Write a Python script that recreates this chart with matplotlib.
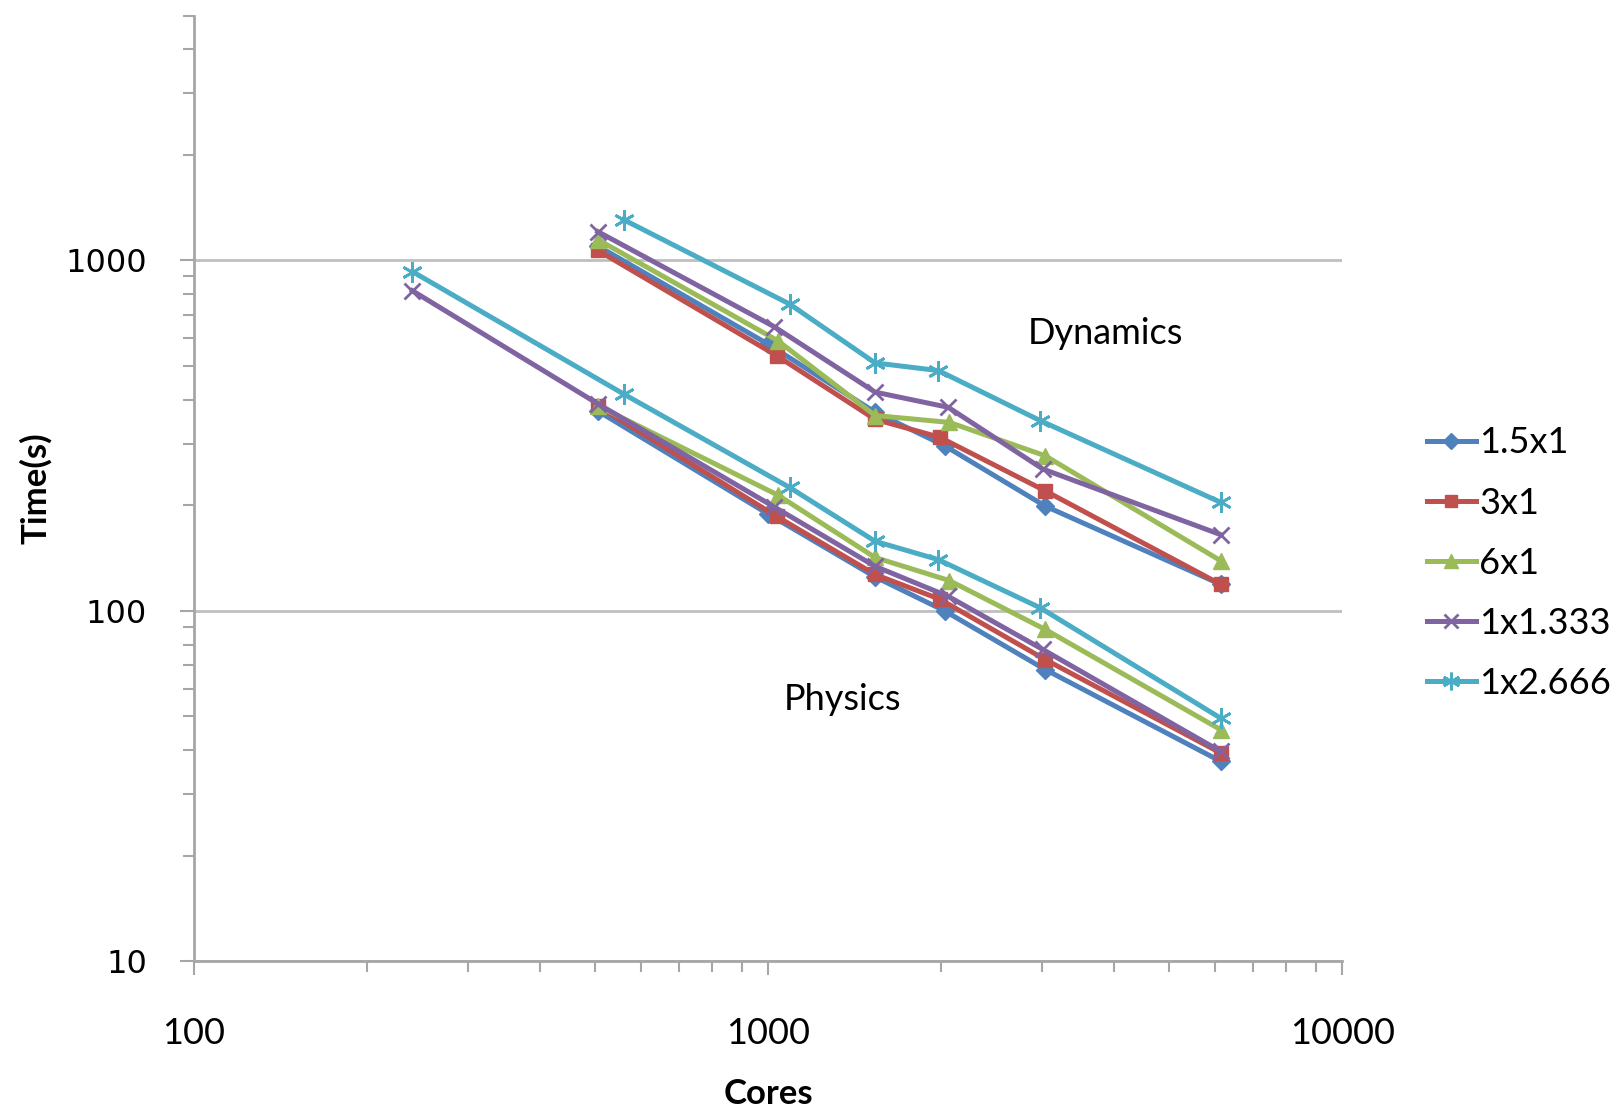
"""Dynamics / Physics strong scaling, log-log, Excel-style look."""
import matplotlib
matplotlib.use('Agg')
import matplotlib.pyplot as plt

# core counts per run (shared by dynamics and physics curves)
cores_15x1 = [505, 1000, 1536, 2030, 3040, 6144]
cores_3x1 = [505, 1035, 1536, 1990, 3040, 6144]
cores_6x1 = [505, 1040, 1536, 2070, 3040, 6144]
cores_1x1333 = [240, 505, 1025, 1536, 2060, 3010, 6144]
cores_1x2666 = [240, 560, 1090, 1536, 1980, 2980, 6144]

# dynamics times (s)
dyn_15x1 = [1100, 577, 369, 296, 199, 119]
dyn_3x1 = [1069, 535, 352, 313, 220, 119]
dyn_6x1 = [1147, 590, 361, 345, 277, 139]
dyn_1x1333 = [1209, 647, 421, 381, 254, 165]      # no 240-core run
dyn_1x2666 = [1308, 751, 510, 485, 349, 204]      # no 240-core run

# physics times (s)
phys_15x1 = [372, 189, 125, 100, 68, 37.2]
phys_3x1 = [384, 186, 127, 108, 72.6, 39.3]
phys_6x1 = [385, 214, 142, 122, 88.5, 45.8]
phys_1x1333 = [820, 390, 198, 134, 110, 77.6, 39.7]
phys_1x2666 = [930, 416, 225, 158, 140, 102, 49.4]

labels = ['1.5x1', '3x1', '6x1', '1x1.333', '1x2.666']
colors = ['#4F81BD', '#C0504D', '#9BBB59', '#8064A2', '#4BACC6']


def main():
    fig = plt.figure(figsize=(16.17, 11.10), dpi=100)
    ax = fig.add_axes([0.12, 0.134, 0.71, 0.852])

    series = [
        (cores_15x1, cores_15x1, dyn_15x1, phys_15x1, 'D', 9, 1),
        (cores_3x1, cores_3x1, dyn_3x1, phys_3x1, 's', 10.5, 1),
        (cores_6x1, cores_6x1, dyn_6x1, phys_6x1, '^', 12, 1),
        (cores_1x1333[1:], cores_1x1333, dyn_1x1333, phys_1x1333, 'x', 12, 2),
        (cores_1x2666[1:], cores_1x2666, dyn_1x2666, phys_1x2666, (6, 2, 0), 15, 2),
    ]
    for (cx_d, cx_p, dyn, phys, mk, ms, mew), lab, col in zip(series, labels, colors):
        kw = dict(color=col, lw=3.6, marker=mk, ms=ms, mew=mew, mec=col, mfc=col)
        ax.plot(cx_d, dyn, label=lab, **kw)
        ax.plot(cx_p, phys, **kw)

    ax.set_xscale('log')
    ax.set_yscale('log')
    ax.set_xlim(100, 10000)
    ax.set_ylim(10, 5000)

    for s in ['top', 'right']:
        ax.spines[s].set_visible(False)
    for s in ['left', 'bottom']:
        ax.spines[s].set_color('#A6A6A6')
        ax.spines[s].set_linewidth(2)

    ax.yaxis.grid(True, which='major', color='#BFBFBF', lw=2)
    ax.set_axisbelow(True)

    ax.tick_params(which='both', direction='out', color='#A6A6A6', width=1.5)
    ax.tick_params(which='major', length=10)
    ax.tick_params(which='minor', length=8)
    ax.tick_params(axis='y', which='major', pad=24, labelsize=23)
    ax.tick_params(axis='x', which='major', pad=30, labelsize=26)
    ax.set_xticks([100, 1000, 10000])
    ax.set_xticklabels(['100', '1000', '10000'], family='Lato')
    ax.set_yticks([10, 100, 1000])
    ax.set_yticklabels(['10', '100', '1000'], family='DejaVu Sans')

    ax.set_xlabel('Cores', family='Lato', fontsize=25, fontweight='bold')
    ax.xaxis.set_label_coords(0.5, -0.123)
    ax.set_ylabel('Time(s)', family='Lato', fontsize=25, fontweight='bold')
    ax.yaxis.set_label_coords(-0.124, 0.5)

    ax.text(3866, 617, 'Dynamics', family='Lato', fontsize=26, ha='center', va='center')
    ax.text(1346, 56, 'Physics', family='Lato', fontsize=26, ha='center', va='center')

    leg = ax.legend(loc='center left', bbox_to_anchor=(1.074, 0.421), frameon=False,
                    prop={'family': 'Lato', 'size': 26}, handlelength=1.35,
                    handletextpad=0.1, labelspacing=0.75, borderpad=0, borderaxespad=0)
    for h in leg.legend_handles:
        h.set_markersize(h.get_markersize() * 0.85)

    fig.savefig('out.png', dpi=100, facecolor='white')
    plt.close(fig)


if __name__ == '__main__':
    main()
